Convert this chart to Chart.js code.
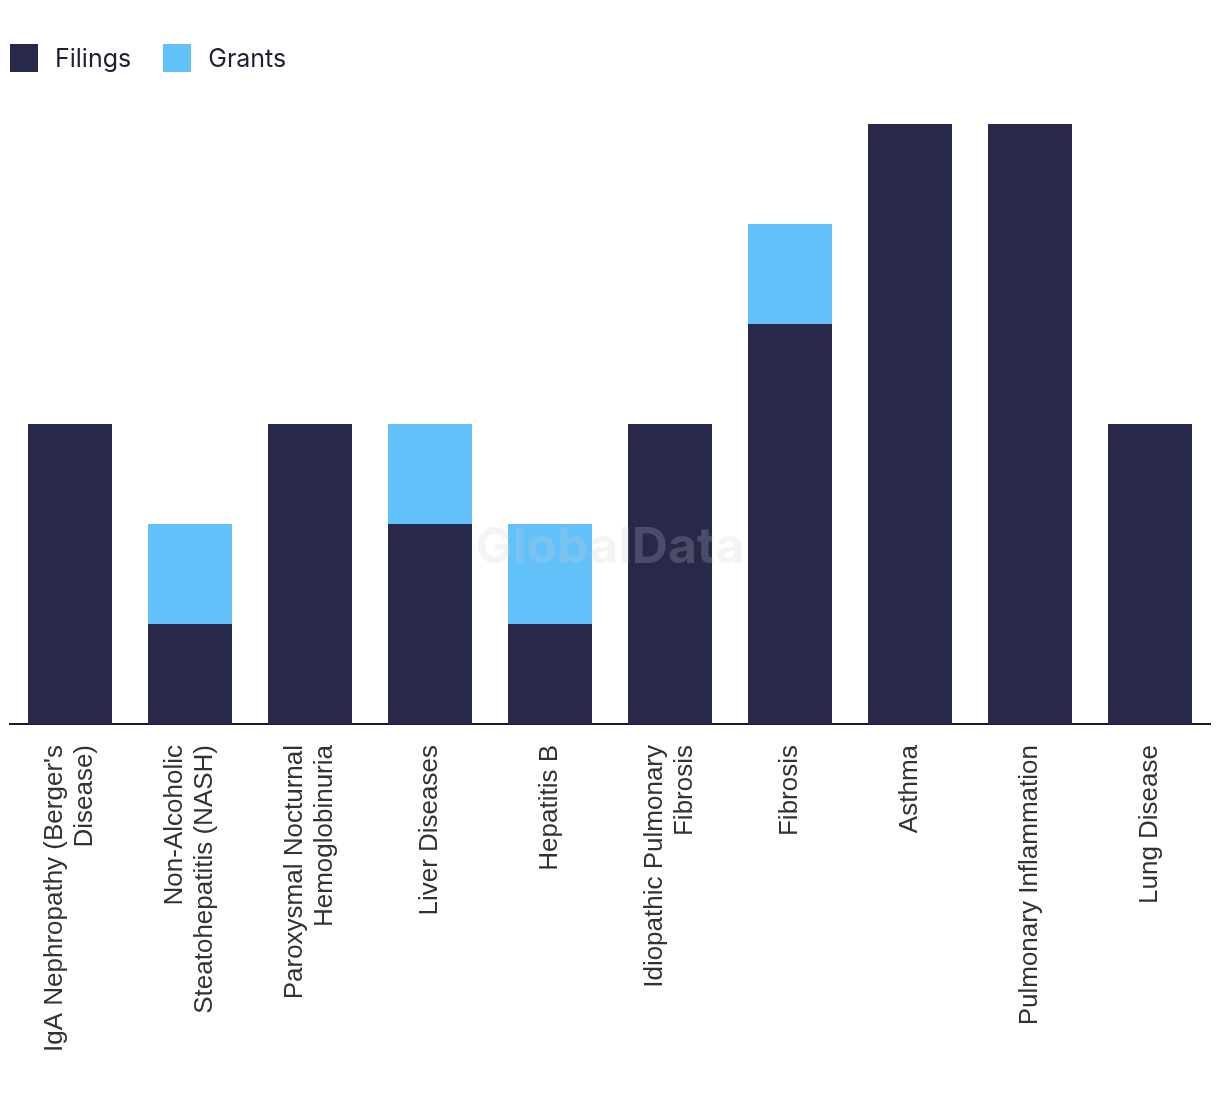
<!DOCTYPE html>
<html>
<head>
<meta charset="utf-8">
<script src="https://cdn.jsdelivr.net/npm/chart.js@4.4.1/dist/chart.umd.min.js"></script>
<style>
    html, body { margin: 0; padding: 0; background: #fff; }
    #wrap { position: relative; width: 1220px; height: 1094px; }
    #legend { position: absolute; left: 10px; top: 44px; height: 28px; display: flex; align-items: center; font-family: Inter, "Noto Sans", sans-serif; font-size: 25px; color: #1e1f33; }
    #legend .item { display: flex; align-items: center; margin-right: 32px; }
    #legend .box { width: 28px; height: 28px; margin-right: 17px; }
</style>
</head>
<body>
<div id="wrap">
    <canvas id="chart" width="1220" height="1094"></canvas>
    <div id="legend"></div>
</div>
<script>
// categories (multi-line as shown under the axis)
const categories = [
    ["IgA Nephropathy (Berger's", "Disease)"],
    ["Non-Alcoholic", "Steatohepatitis (NASH)"],
    ["Paroxysmal Nocturnal", "Hemoglobinuria"],
    ["Liver Diseases"],
    ["Hepatitis B"],
    ["Idiopathic Pulmonary", "Fibrosis"],
    ["Fibrosis"],
    ["Asthma"],
    ["Pulmonary Inflammation"],
    ["Lung Disease"]
];
const filings = [3, 1, 3, 2, 1, 3, 4, 6, 6, 3];
const grants  = [0, 1, 0, 1, 1, 0, 1, 0, 0, 0];

const NAVY = '#27284a';
const BLUE = '#63c1f9';

// 🏷️ rotated, centred multi-line category labels
const xLabels = {
    id: 'xLabels',
    afterDraw(chart) {
        const ctx = chart.ctx;
        const xs = chart.scales.x;
        const top = chart.chartArea.bottom + 21;
        const lh = 30;
        ctx.save();
        ctx.font = '26px "Liberation Sans", Arial, sans-serif';
        ctx.fillStyle = '#333';
        ctx.textAlign = 'right';
        ctx.textBaseline = 'middle';
        categories.forEach((lines, i) => {
            const cx = xs.getPixelForValue(i);
            const start = cx - (lines.length - 1) * lh / 2;
            lines.forEach((line, j) => {
                ctx.save();
                ctx.translate(start + j * lh, top);
                ctx.rotate(-Math.PI / 2);
                ctx.fillText(line, 0, 0);
                ctx.restore();
            });
        });
        ctx.restore();
    }
};

// watermark
const watermark = {
    id: 'watermark',
    afterDatasetsDraw(chart) {
        const ctx = chart.ctx;
        ctx.save();
        ctx.font = 'bold 50px Inter, "Noto Sans", sans-serif';
        ctx.fillStyle = 'rgba(205,205,215,0.22)';
        ctx.textAlign = 'center';
        ctx.textBaseline = 'middle';
        ctx.fillText('GlobalData', 610, 548);
        ctx.restore();
    }
};

const chart = new Chart(document.getElementById('chart'), {
    type: 'bar',
    data: {
        labels: categories,
        datasets: [
            { label: 'Filings', data: filings, backgroundColor: NAVY },
            { label: 'Grants', data: grants, backgroundColor: BLUE }
        ]
    },
    options: {
        responsive: false,
        animation: false,
        layout: { padding: { left: 10, right: 10, top: 124, bottom: 370 } },
        plugins: { legend: { display: false }, tooltip: { enabled: false } },
        datasets: { bar: { categoryPercentage: 1, barPercentage: 0.7 } },
        scales: {
            x: {
                stacked: true,
                ticks: { display: false },
                grid: { display: false, drawTicks: false },
                border: { display: true, color: '#1b1c33', width: 2 }
            },
            y: {
                stacked: true,
                display: false,
                min: 0,
                max: 6
            }
        }
    },
    plugins: [watermark, xLabels]
});

// HTML legend
const legendEl = document.getElementById('legend');
chart.data.datasets.forEach(ds => {
    const item = document.createElement('div');
    item.className = 'item';
    item.innerHTML = `<span class="box" style="background:${ds.backgroundColor}"></span><span>${ds.label}</span>`;
    legendEl.appendChild(item);
});
</script>
</body>
</html>
